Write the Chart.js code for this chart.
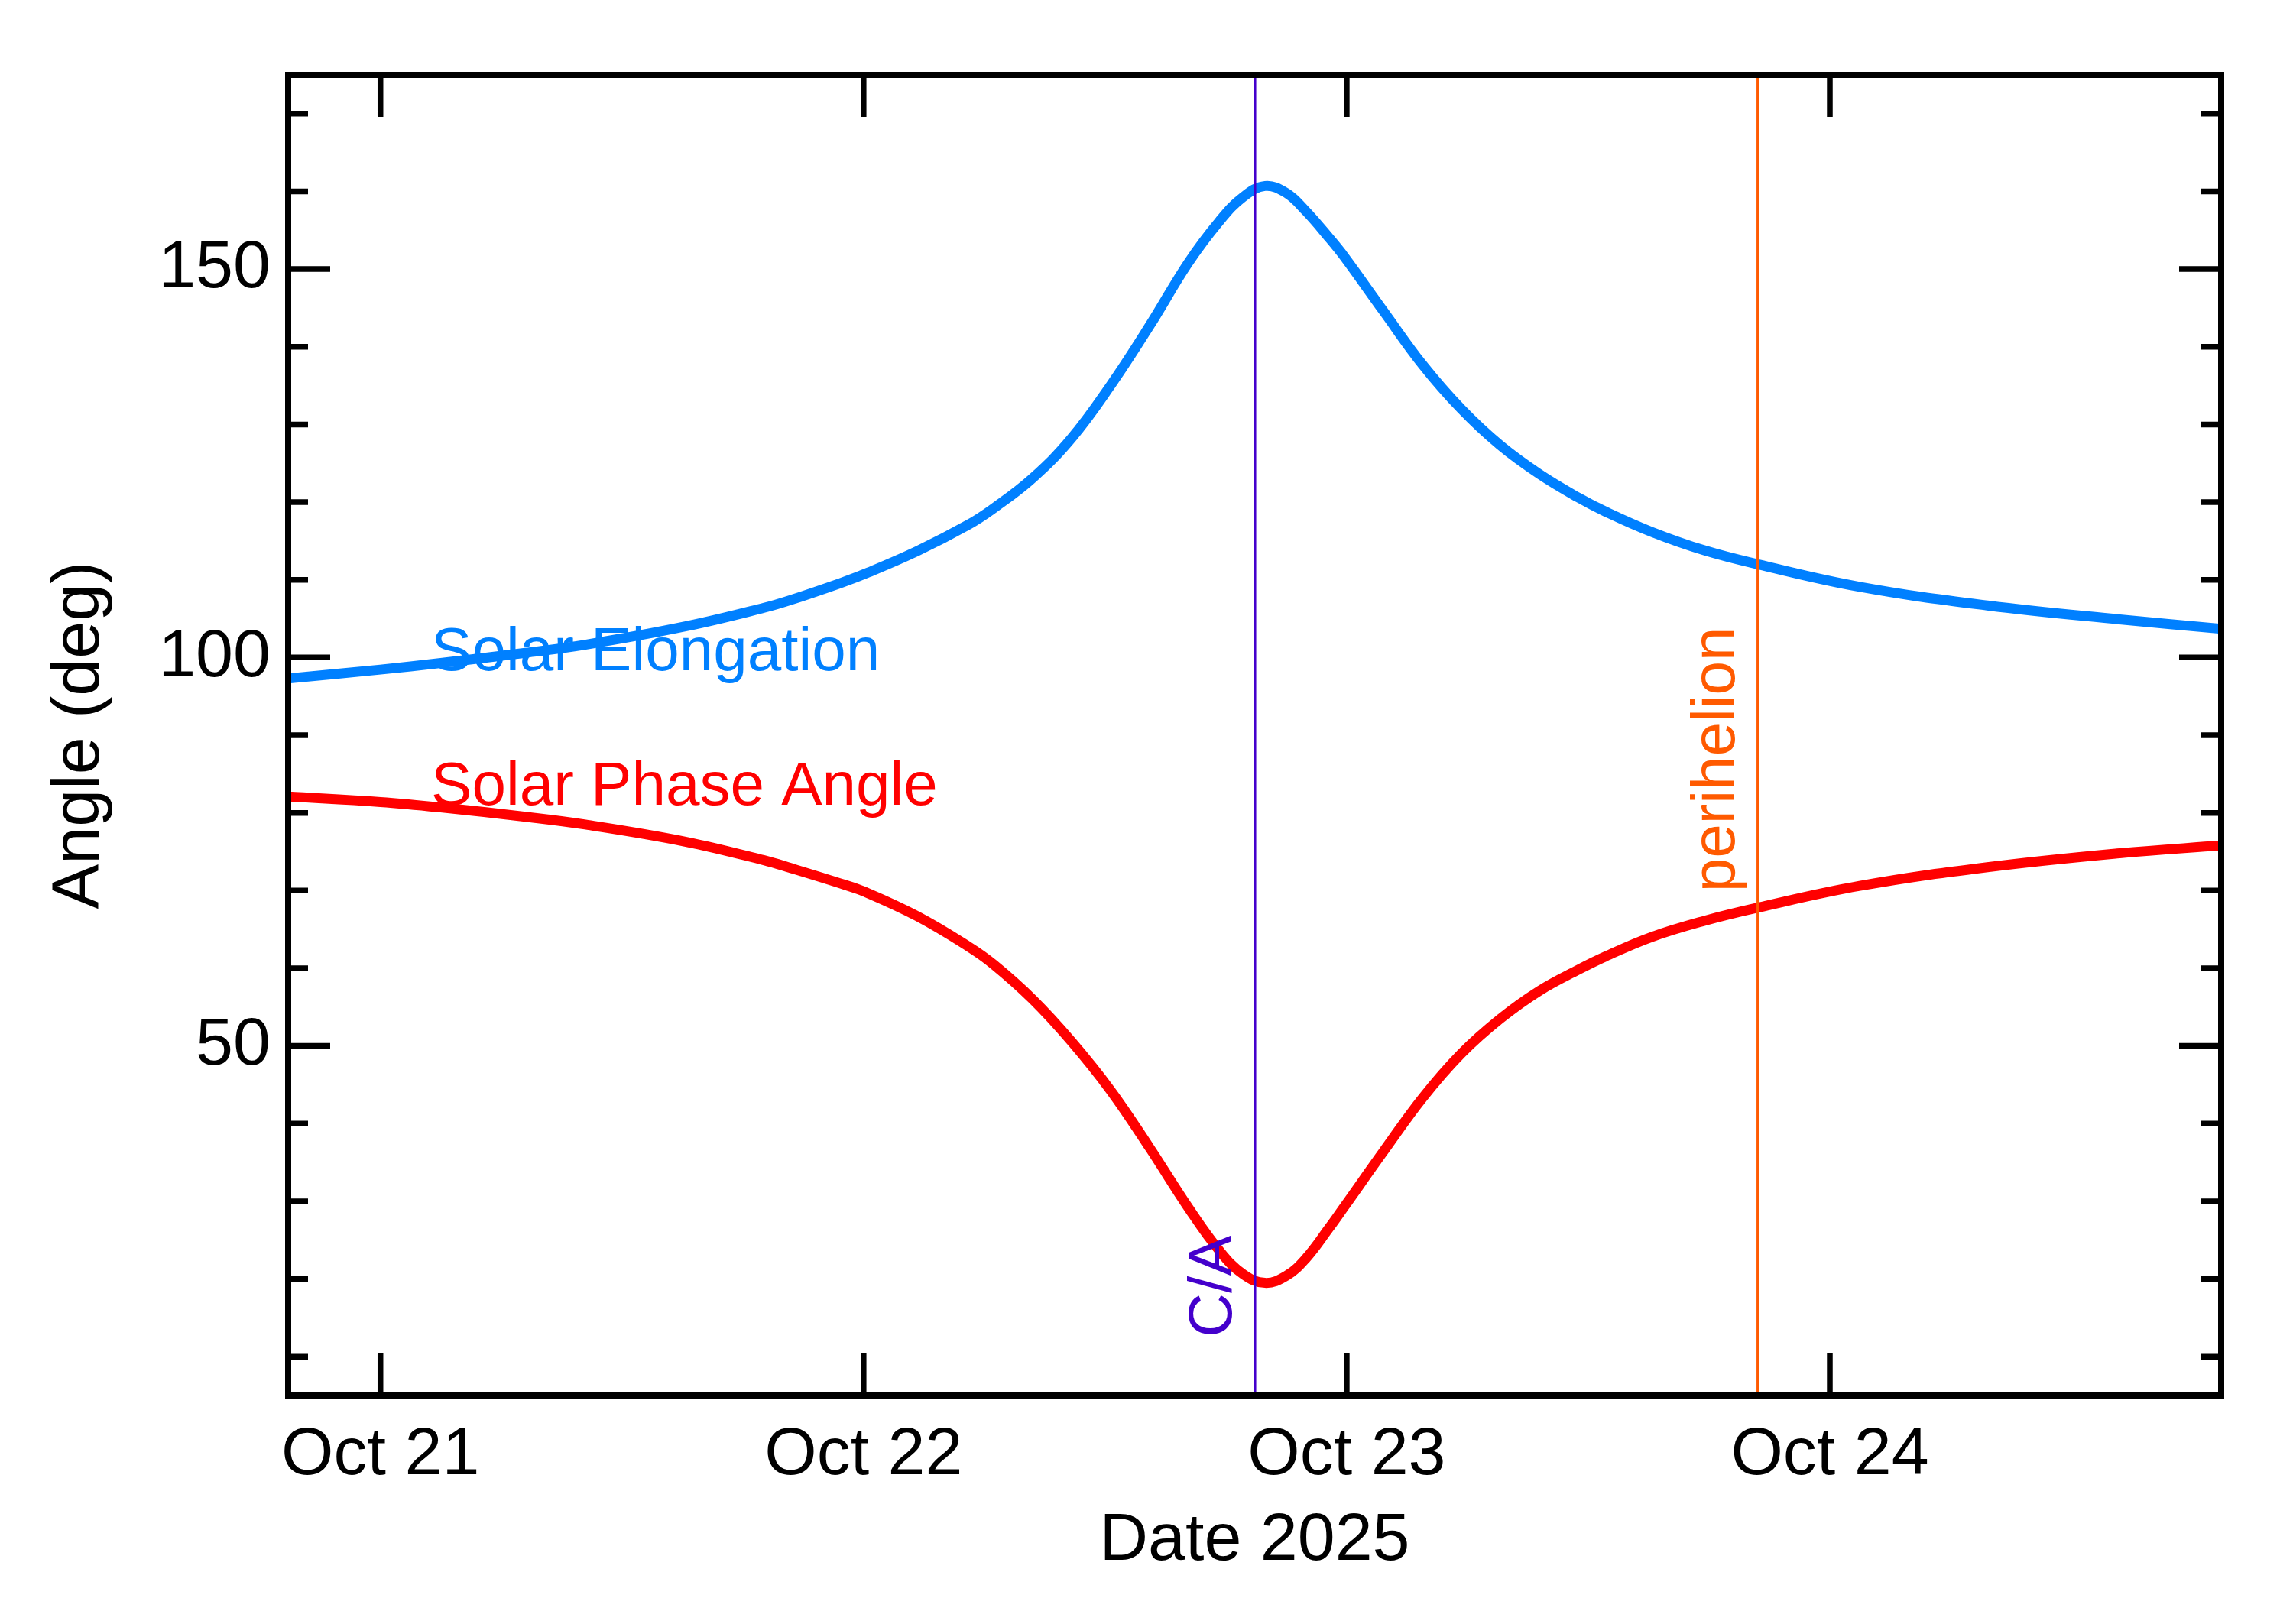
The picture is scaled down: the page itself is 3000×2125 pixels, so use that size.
<!DOCTYPE html>
<html>
<head>
<meta charset="utf-8">
<script src="https://cdn.jsdelivr.net/npm/chart.js@4.4.1/dist/chart.umd.min.js"></script>
<style>
html,body{margin:0;padding:0;background:#fff;}
canvas{display:block;}
</style>
</head>
<body>
<canvas id="c" width="3000" height="2125"></canvas>
<script>
// ---- data (day of October 2025, fractional) ----
const days = [20.809, 21.000, 21.125, 21.300, 21.424, 21.631, 21.794, 21.849, 21.953, 22.000,
  22.111, 22.217, 22.269, 22.350, 22.430, 22.511, 22.592, 22.672, 22.737,
  22.786, 22.831, 22.875, 22.915, 22.964, 22.995, 23.076, 23.157, 23.237, 23.318,
  23.399, 23.479, 23.535, 23.630, 23.740, 23.851, 24.062, 24.326, 24.600, 24.810];
const elongation = [97.3, 98.45, 99.3, 100.6, 101.65, 104.0, 106.4, 107.4, 109.6, 110.7,
  113.7, 117.1, 119.2, 123.1, 128.2, 135.0, 142.7, 150.8, 156.2,
  159.3, 160.7, 159.8, 157.5, 154.0, 151.6, 144.6, 137.7, 132.0, 127.3,
  123.6, 120.6, 118.8, 116.2, 113.8, 112.0, 109.1, 106.7, 104.9, 103.7];
const phaseAngle = [82.1, 81.4, 80.7, 79.5, 78.5, 76.3, 73.9, 72.9, 70.9, 69.9,
  66.7, 62.8, 60.5, 56.0, 50.6, 44.3, 36.9, 29.2, 23.6,
  20.6, 19.5, 20.4, 22.6, 26.6, 29.3, 36.4, 43.3, 49.0, 53.5,
  57.1, 59.8, 61.5, 64.0, 66.1, 67.8, 70.6, 73.0, 74.8, 75.8];
const xTickValues = [21, 22, 23, 24];
const xTickLabels = ['Oct 21', 'Oct 22', 'Oct 23', 'Oct 24'];
const yTickValues = [50, 100, 150];
const xMin = 20.809, xMax = 24.810;
const yMin = 5, yMax = 175;
const closeApproachDay = 22.810;
const perihelionDay = 23.851;

const FONT = '"Liberation Sans", Arial, Helvetica, sans-serif';
const BLUE = '#0080FF', RED = '#FF0000', CA_COLOR = '#4400CC', PERI_COLOR = '#FF5A00';

const markers = [
  {day: closeApproachDay, label: 'C/A', labelY: 12.5, color: CA_COLOR},
  {day: perihelionDay, label: 'perihelion', labelY: 69.8, color: PERI_COLOR}
];
const seriesLabels = [
  {text: 'Solar Elongation', day: 21.105, y: 98.4, color: BLUE},
  {text: 'Solar Phase Angle', day: 21.105, y: 81.0, color: RED}
];

const decor = {
  id: 'decor',
  beforeDraw(chart) {
    const ctx = chart.ctx;
    ctx.save();
    ctx.fillStyle = '#fff';
    ctx.fillRect(0, 0, chart.width, chart.height);
    ctx.restore();
  },
  afterDatasetsDraw(chart) {
    const {ctx, chartArea: a, scales: {x, y}} = chart;
    markers.forEach(m => {
      const px = x.getPixelForValue(m.day);
      ctx.save();
      ctx.strokeStyle = m.color;
      ctx.lineWidth = 3.5;
      ctx.beginPath();
      ctx.moveTo(px, a.top);
      ctx.lineTo(px, a.bottom);
      ctx.stroke();
      ctx.translate(px - 31, y.getPixelForValue(m.labelY));
      ctx.rotate(-Math.PI / 2);
      ctx.font = '80px ' + FONT;
      ctx.fillStyle = m.color;
      ctx.textAlign = 'left';
      ctx.textBaseline = 'alphabetic';
      ctx.fillText(m.label, 0, 0);
      ctx.restore();
    });
    seriesLabels.forEach(s => {
      ctx.save();
      ctx.font = '80px ' + FONT;
      ctx.fillStyle = s.color;
      ctx.textAlign = 'left';
      ctx.textBaseline = 'alphabetic';
      ctx.fillText(s.text, x.getPixelForValue(s.day), y.getPixelForValue(s.y));
      ctx.restore();
    });
  },
  afterDraw(chart) {
    const {ctx, chartArea: a, scales: {x, y}} = chart;
    ctx.save();
    ctx.strokeStyle = '#000';
    ctx.lineWidth = 8;
    ctx.lineJoin = 'miter';
    ctx.strokeRect(a.left, a.top, a.right - a.left, a.bottom - a.top);
    ctx.lineWidth = 7.5;
    ctx.lineCap = 'butt';
    ctx.beginPath();
    for (let v = 10; v < yMax; v += 10) {
      const py = y.getPixelForValue(v);
      const len = (v % 50 === 0) ? 55 : 26;
      ctx.moveTo(a.left, py); ctx.lineTo(a.left + len, py);
      ctx.moveTo(a.right, py); ctx.lineTo(a.right - len, py);
    }
    xTickValues.forEach(v => {
      const px = x.getPixelForValue(v);
      ctx.moveTo(px, a.bottom); ctx.lineTo(px, a.bottom - 55);
      ctx.moveTo(px, a.top); ctx.lineTo(px, a.top + 55);
    });
    ctx.stroke();
    ctx.restore();
  }
};

new Chart(document.getElementById('c'), {
  type: 'line',
  data: {
    datasets: [
      {
        label: 'Solar Elongation',
        data: days.map((d, i) => ({x: d, y: elongation[i]})),
        borderColor: BLUE, borderWidth: 13, pointRadius: 0,
        tension: 0.4, fill: false
      },
      {
        label: 'Solar Phase Angle',
        data: days.map((d, i) => ({x: d, y: phaseAngle[i]})),
        borderColor: RED, borderWidth: 13, pointRadius: 0,
        tension: 0.4, fill: false
      }
    ]
  },
  options: {
    responsive: false,
    devicePixelRatio: 1,
    animation: false,
    layout: {padding: {left: 0, top: 98, right: 94, bottom: 0}},
    plugins: {legend: {display: false}, tooltip: {enabled: false}},
    scales: {
      x: {
        type: 'linear', min: xMin, max: xMax,
        grid: {display: false, drawTicks: false},
        border: {display: false},
        afterBuildTicks: s => { s.ticks = xTickValues.map(v => ({value: v})); },
        afterFit: s => { s.height = 299; },
        ticks: {
          font: {family: FONT, size: 88}, color: '#000', padding: 26,
          maxRotation: 0, autoSkip: false,
          callback: v => xTickLabels[xTickValues.indexOf(v)]
        },
        title: {display: true, text: 'Date 2025', color: '#000',
          font: {family: FONT, size: 88}, padding: {top: 0, bottom: 55}}
      },
      y: {
        type: 'linear', min: yMin, max: yMax,
        grid: {display: false, drawTicks: false},
        border: {display: false},
        afterBuildTicks: s => { s.ticks = yTickValues.map(v => ({value: v})); },
        afterFit: s => { s.width = 377; },
        ticks: {
          font: {family: FONT, size: 88}, color: '#000', padding: 23,
          autoSkip: false, callback: v => String(v)
        },
        title: {display: true, text: 'Angle (deg)', color: '#000',
          font: {family: FONT, size: 88}, padding: {top: 52, bottom: 0}}
      }
    }
  },
  plugins: [decor]
});
</script>
</body>
</html>
